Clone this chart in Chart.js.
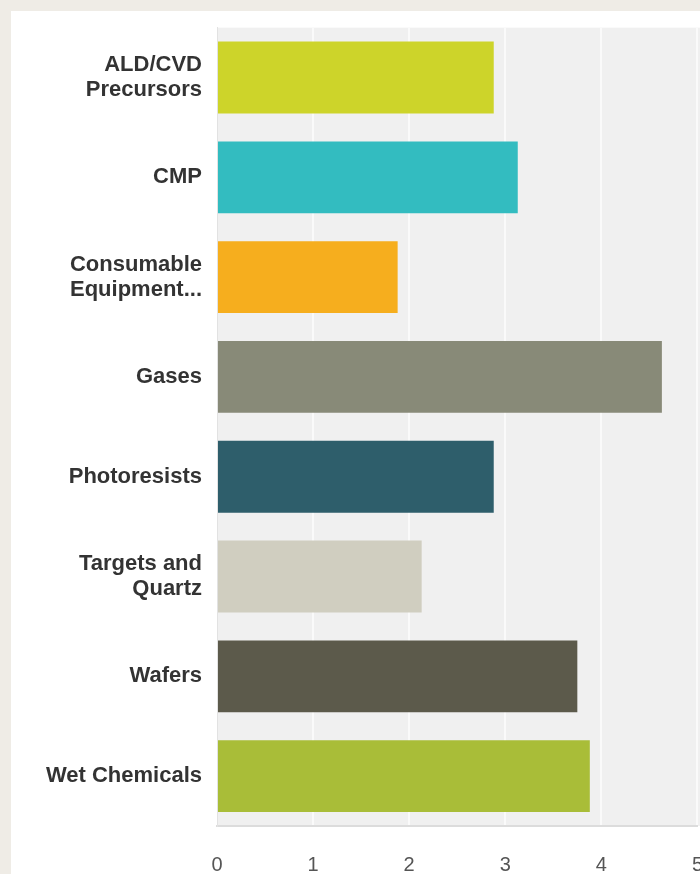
<!DOCTYPE html>
<html>
<head>
<meta charset="utf-8">
<script src="https://cdn.jsdelivr.net/npm/chart.js@4/dist/chart.umd.min.js"></script>
<style>
  html, body { margin: 0; padding: 0; overflow: hidden; background: #efece6; }
  #panel { position: absolute; left: 11px; top: 11px; width: 760px; height: 920px; background: #ffffff; }
  #chart-canvas { position: absolute; left: 0; top: 0; }
</style>
</head>
<body>
<div id="panel"></div>
<canvas id="chart-canvas" width="730" height="900"></canvas>
<script>
"use strict";

// data
let categories = [
  ["ALD/CVD", "Precursors"],
  "CMP",
  ["Consumable", "Equipment..."],
  "Gases",
  "Photoresists",
  ["Targets and", "Quartz"],
  "Wafers",
  "Wet Chemicals",
];
let scores = [2.88, 3.13, 1.88, 4.63, 2.88, 2.13, 3.75, 3.88];
let barColors = ["#cdd42a", "#33bcc0", "#f6ae1e", "#888a78", "#2e5e6b", "#d0cec0", "#5c5a4b", "#a9bd38"];
let tickValues = [0, 1, 2, 3, 4, 5];

// gray plot background, runs out past the right edge like the original
let plotBackground = {
  id: "plotBackground",
  beforeDraw(chart) {
    let ctx = chart.ctx;
    let area = chart.chartArea;
    ctx.save();
    ctx.fillStyle = "#f0f0f0";
    ctx.fillRect(area.left, area.top, chart.width - area.left, area.bottom - area.top);
    ctx.restore();
  },
};

// canvas is 730 wide: the x tick padding (27) + half of "5" puts the plot's right edge at 697
let ctx = document.getElementById("chart-canvas");
let chart = new Chart(ctx, {
  type: "bar",
  data: {
    labels: categories,
    datasets: [
      {
        data: scores,
        backgroundColor: barColors,
        borderWidth: 0,
        barPercentage: 0.9,
        categoryPercentage: 0.8,
      },
    ],
  },
  options: {
    indexAxis: "y",
    responsive: false,
    animation: false,
    layout: { padding: { top: 25, right: 0, bottom: 0, left: 0 } },
    plugins: { legend: { display: false }, tooltip: { enabled: false } },
    scales: {
      x: {
        min: 0,
        max: 5,
        afterBuildTicks(scale) {
          scale.ticks = tickValues.map((v) => ({ value: v }));
        },
        afterFit(scale) {
          scale.height = 900 - 826;
        },
        grid: {
          drawTicks: false,
          color: (c) => (c.index === 0 ? "rgba(0,0,0,0)" : "#fafafa"),
          lineWidth: 2,
        },
        border: { display: true, color: "#dcdcdc", width: 2 },
        ticks: {
          padding: 27,
          color: "#555555",
          font: { family: "'Liberation Sans', Arial, sans-serif", size: 20 },
        },
      },
      y: {
        afterFit(scale) {
          scale.width = 217;
        },
        grid: { display: false, drawTicks: false },
        border: { display: true, color: "#e2e2e2", width: 1 },
        ticks: {
          padding: 15,
          color: "#333333",
          font: { family: "'Liberation Sans', Arial, sans-serif", size: 22, weight: "bold", lineHeight: 1.15 },
        },
      },
    },
  },
  plugins: [plotBackground],
});
</script>
</body>
</html>
